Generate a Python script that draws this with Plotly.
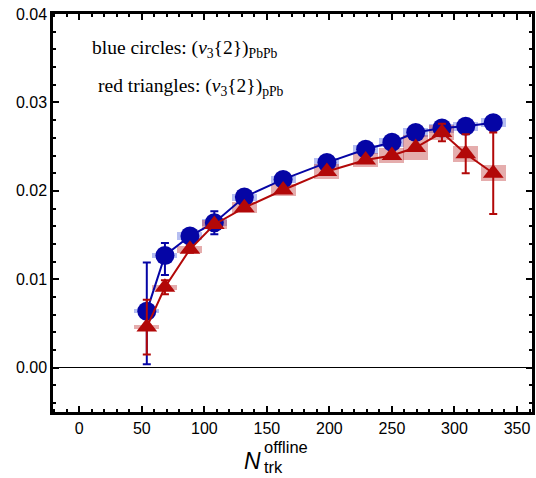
import plotly.graph_objects as go

# Multiplicity bins (N_trk^offline)
n_pbpb = [54, 68.5, 88.5, 108, 132, 163, 198, 229, 250, 269, 290, 309, 331]
n_ppb = [54, 68.5, 88.5, 108, 132, 163, 198, 229, 250, 269, 290, 309, 331]

# v3{2} PbPb (blue circles)
v3_pbpb = [0.0064, 0.0127, 0.0149, 0.0164, 0.0193, 0.0213, 0.0232, 0.0247, 0.0255, 0.0266, 0.0271, 0.0273, 0.0277]
stat_up_pbpb = [0.0055, 0.0014, 0.0004, 0.0013, 0.0003, 0.0003, 0.0003, 0.0003, 0.0003, 0.0003, 0.0003, 0.0003, 0.0003]
stat_dn_pbpb = [0.0060, 0.0022, 0.0004, 0.0013, 0.0003, 0.0003, 0.0003, 0.0003, 0.0003, 0.0003, 0.0003, 0.0003, 0.0003]
sys_pbpb = [0.0002, 0.0003, 0.0004, 0.0004, 0.0004, 0.0004, 0.0005, 0.0005, 0.0005, 0.0005, 0.0005, 0.0005, 0.0005]

# v3{2} pPb (red triangles)
v3_ppb = [0.0046, 0.0091, 0.0134, 0.0162, 0.0181, 0.0201, 0.0222, 0.0235, 0.0240, 0.0249, 0.0266, 0.0242, 0.0220]
stat_ppb = [0.0031, 0.0008, 0.0004, 0.0003, 0.0003, 0.0003, 0.0003, 0.0003, 0.0003, 0.0003, 0.0010, 0.0022, 0.0046]
sys_ppb = [0.0002, 0.0003, 0.0004, 0.0005, 0.0006, 0.0007, 0.0008, 0.0008, 0.0009, 0.0014, 0.0009, 0.0009, 0.0009]

BOX_HALF_WIDTH = 10

BLUE = "rgb(5,5,165)"
RED = "rgb(178,8,8)"

fig = go.Figure()

# systematic boxes PbPb
fig.add_trace(go.Bar(
    x=n_pbpb, y=[2 * s for s in sys_pbpb], base=[v - s for v, s in zip(v3_pbpb, sys_pbpb)],
    width=2 * BOX_HALF_WIDTH, marker=dict(color="rgba(90,110,225,0.45)", line=dict(width=0)),
    showlegend=False, hoverinfo="skip"))

fig.add_trace(go.Scatter(
    x=n_pbpb, y=v3_pbpb, mode="lines+markers",
    line=dict(color=BLUE, width=2),
    marker=dict(symbol="circle", size=19, color=BLUE),
    error_y=dict(type="data", symmetric=False, array=stat_up_pbpb, arrayminus=stat_dn_pbpb,
                 color=BLUE, thickness=2, width=4),
    showlegend=False))

# systematic boxes pPb
fig.add_trace(go.Bar(
    x=n_ppb, y=[2 * s for s in sys_ppb], base=[v - s for v, s in zip(v3_ppb, sys_ppb)],
    width=2 * BOX_HALF_WIDTH, marker=dict(color="rgba(190,50,50,0.4)", line=dict(width=0)),
    showlegend=False, hoverinfo="skip"))

fig.add_trace(go.Scatter(
    x=n_ppb, y=v3_ppb, mode="lines+markers",
    line=dict(color=RED, width=2),
    marker=dict(symbol="triangle-up", size=18, color=RED),
    error_y=dict(type="data", array=stat_ppb, color=RED, thickness=2, width=4),
    showlegend=False))

axis_common = dict(
    showline=True, linecolor="black", linewidth=2.5, mirror="allticks",
    ticks="inside", ticklen=6, tickwidth=2, tickcolor="black",
    showgrid=False, automargin=False,
    tickfont=dict(family="Liberation Sans", size=16, color="black"),
)

fig.update_xaxes(range=[-21, 362], dtick=50, tick0=0,
                 minor=dict(ticks="inside", ticklen=3, tickwidth=1.5, dtick=10, tickcolor="black", showgrid=False),
                 zeroline=False, **axis_common)
fig.update_yaxes(range=[-0.005, 0.04], dtick=0.01, tick0=0, tickformat=".2f",
                 minor=dict(ticks="inside", ticklen=3, tickwidth=1.5, dtick=0.002, tickcolor="black", showgrid=False),
                 zeroline=True, zerolinecolor="black", zerolinewidth=1, **axis_common)

serif = dict(family="Liberation Serif", size=19.5, color="black")
sans = dict(family="Liberation Sans", color="black")

annotations = [
    dict(text="blue circles: (<i>v</i><sub>3</sub>{2})<sub>PbPb</sub>", x=0.078, y=0.9125,
         xref="paper", yref="paper", xanchor="left", yanchor="middle", showarrow=False, font=serif),
    dict(text="red triangles: (<i>v</i><sub>3</sub>{2})<sub>pPb</sub>", x=0.089, y=0.8175,
         xref="paper", yref="paper", xanchor="left", yanchor="middle", showarrow=False, font=serif),
    dict(text="<i>N</i>", x=0.4175, y=0, yshift=-49, xref="paper", yref="paper",
         xanchor="center", yanchor="middle", showarrow=False, font=dict(size=23, **sans)),
    dict(text="offline", x=0.436, y=0, yshift=-35, xref="paper", yref="paper",
         xanchor="left", yanchor="middle", showarrow=False, font=dict(size=16.5, **sans)),
    dict(text="trk", x=0.436, y=0, yshift=-55, xref="paper", yref="paper",
         xanchor="left", yanchor="middle", showarrow=False, font=dict(size=16.5, **sans)),
]

fig.update_layout(
    width=536, height=478,
    margin=dict(l=53, r=4, t=14, b=66, autoexpand=False),
    plot_bgcolor="white", paper_bgcolor="white",
    barmode="overlay", bargap=0,
    annotations=annotations,
    showlegend=False,
)

fig.write_html("out.html", config={"displayModeBar": False},
               post_script="document.body.style.margin='0';document.body.style.overflow='hidden';")
